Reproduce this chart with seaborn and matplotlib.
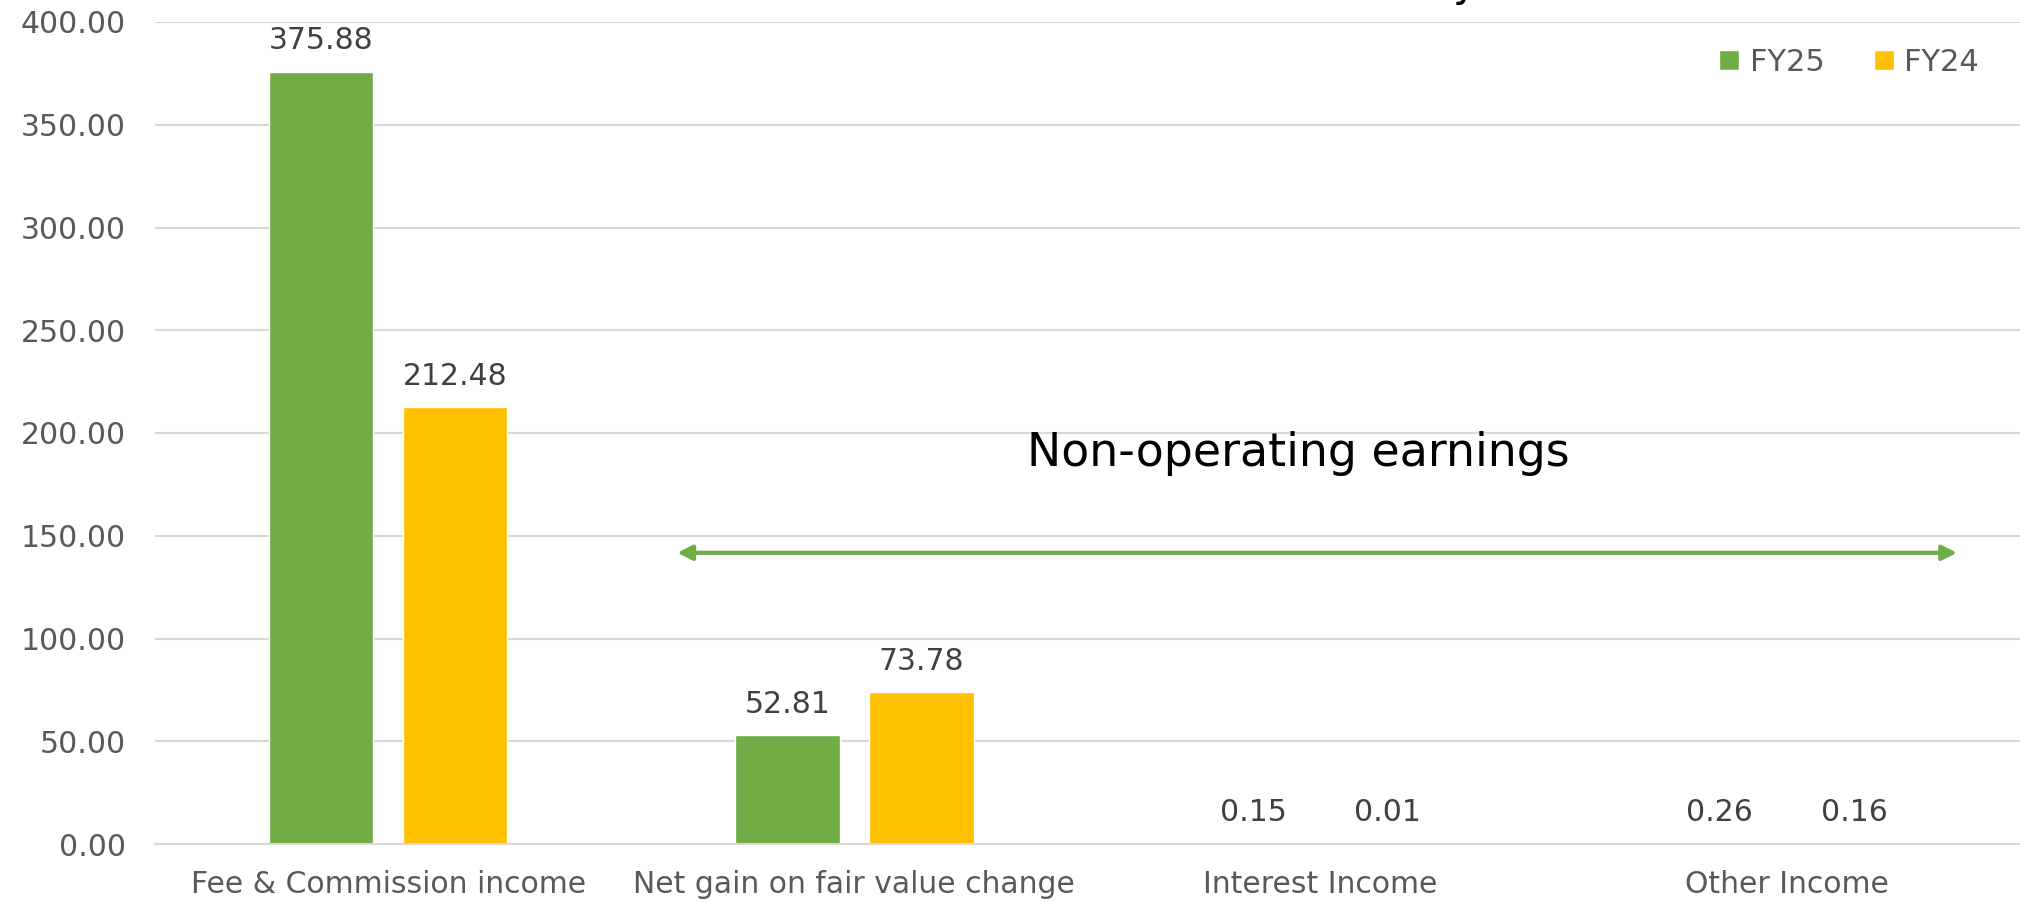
import matplotlib
matplotlib.use("Agg")
import matplotlib.pyplot as plt
import seaborn as sns
import pandas as pd

categories = ["Fee & Commission income", "Net gain on fair value change", "Interest Income", "Other Income"]
fy25 = [375.88, 52.81, 0.15, 0.26]
fy24 = [212.48, 73.78, 0.01, 0.16]
series = ["FY25", "FY24"]
yticks = [0, 50, 100, 150, 200, 250, 300, 350, 400]

df = pd.DataFrame({
    "category": categories * 2,
    "value": fy25 + fy24,
    "series": [series[0]] * 4 + [series[1]] * 4,
})

sns.set_theme(style="white")
plt.rcParams["font.family"] = ["DejaVu Sans"]
TXT = "#595959"

fig = plt.figure(figsize=(20.2, 9.02), dpi=100)
ax = fig.add_axes([155 / 2020, 58 / 902, 1 - 155 / 2020, (844 - 22) / 902])

palette = {"FY25": "#70AD47", "FY24": "#FFC000"}
sns.barplot(data=df, x="category", y="value", hue="series", palette=palette,
            width=0.575, gap=0.22, ax=ax, legend=True, saturation=1)

for cont in ax.containers:
    ax.bar_label(cont, fmt="%.2f", padding=12, fontsize=21.5, color="#404040")

ax.set_ylim(0, 400)
ax.set_xlim(-0.5, 3.5)
ax.set_yticks(yticks)
ax.set_yticklabels([f"{v:.2f}" for v in yticks], fontsize=21.5, color=TXT)
ax.tick_params(axis="y", length=0, pad=21)
ax.tick_params(axis="x", length=0, pad=19, labelsize=21.5, labelcolor=TXT)
ax.set_xlabel("")
ax.set_ylabel("")
ax.yaxis.grid(True, color="#D9D9D9", linewidth=1.5)
ax.set_axisbelow(True)
for s in ["top", "right", "left"]:
    ax.spines[s].set_visible(False)
ax.spines["bottom"].set_color("#D9D9D9")
ax.spines["bottom"].set_linewidth(1.5)

# arrow and annotation
ax.annotate("", xy=(0.62, 141.7), xytext=(3.365, 141.7),
            arrowprops=dict(arrowstyle="<|-|>", color="#70AD47", lw=3,
                            mutation_scale=22, shrinkA=0, shrinkB=0))
ax.text(1.953, 190, "Non-operating earnings", ha="center", va="center",
        fontsize=33, color="black")

leg = ax.legend(loc="center right", bbox_to_anchor=(0.978, 0.951), ncol=2, frameon=False,
                fontsize=22, handlelength=0.65, handleheight=0.65, columnspacing=1.6,
                handletextpad=0.35, borderpad=0, borderaxespad=0)
for t in leg.get_texts():
    t.set_color(TXT)

# title clipped at top of figure (only descender visible)
fig.text(1478 / 2020, 1 + 4 / 902, "Revenue Summary", ha="right", va="baseline",
         fontsize=30, color="black")

fig.savefig("out.png", dpi=100)
